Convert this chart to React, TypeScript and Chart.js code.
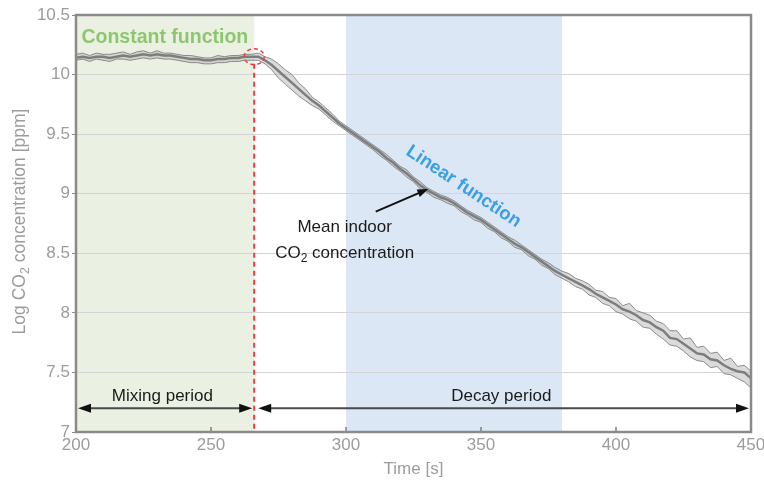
import React, { useEffect, useRef } from "react";
import { Chart, registerables } from "chart.js";

Chart.register(...registerables);

// ---------- data ----------
const TIMES: number[] = Array.from({ length: 101 }, (_, i) => 200 + i * 2.5);

const MEAN: number[] = [
  10.14, 10.15, 10.14, 10.15, 10.15, 10.14, 10.15, 10.16, 10.15, 10.16,
  10.17, 10.16, 10.17, 10.16, 10.16, 10.15, 10.14, 10.13, 10.13, 10.12,
  10.12, 10.13, 10.13, 10.14, 10.14, 10.15, 10.15,
  10.15, 10.12, 10.08, 10.03, 9.98, 9.93, 9.88, 9.83, 9.78, 9.74,
  9.69, 9.64, 9.59, 9.55, 9.51, 9.47, 9.43, 9.39, 9.35, 9.30,
  9.26, 9.21, 9.17, 9.12, 9.07, 9.03, 9.0, 8.97, 8.95, 8.92,
  8.88, 8.84, 8.81, 8.78, 8.74, 8.70, 8.66, 8.62, 8.58, 8.55,
  8.51, 8.47, 8.43, 8.39, 8.35, 8.32, 8.29, 8.26, 8.23, 8.20,
  8.16, 8.13, 8.10, 8.07, 8.03, 8.01, 7.98, 7.94, 7.92, 7.88,
  7.85, 7.79, 7.78, 7.74, 7.70, 7.66, 7.65, 7.61, 7.60, 7.56,
  7.53, 7.51, 7.50, 7.45,
];

const UPPER: number[] = [
  10.17, 10.18, 10.16, 10.18, 10.17, 10.17, 10.18, 10.19, 10.17, 10.19,
  10.2, 10.18, 10.2, 10.18, 10.18, 10.17, 10.16, 10.16, 10.15, 10.14,
  10.14, 10.16, 10.15, 10.16, 10.16, 10.17, 10.17,
  10.18, 10.15, 10.13, 10.09, 10.04, 10.0, 9.93, 9.88, 9.81, 9.77,
  9.72, 9.67, 9.61, 9.57, 9.53, 9.49, 9.45, 9.41, 9.37, 9.33,
  9.28, 9.23, 9.2, 9.14, 9.1, 9.05, 9.02, 8.99, 8.97, 8.94,
  8.9, 8.86, 8.83, 8.8, 8.76, 8.72, 8.68, 8.64, 8.61, 8.57,
  8.53, 8.49, 8.45, 8.42, 8.38, 8.35, 8.33, 8.29, 8.27, 8.24,
  8.19, 8.18, 8.13, 8.12, 8.06, 8.08, 8.02, 8.0, 7.98, 7.93,
  7.91, 7.85, 7.85, 7.78, 7.79, 7.71, 7.72, 7.66, 7.67, 7.6,
  7.62, 7.55, 7.56, 7.51,
];

const LOWER: number[] = [
  10.12, 10.13, 10.11, 10.13, 10.12, 10.11, 10.13, 10.13, 10.12, 10.13,
  10.14, 10.13, 10.14, 10.13, 10.13, 10.12, 10.11, 10.1, 10.1, 10.09,
  10.09, 10.1, 10.1, 10.11, 10.11, 10.12, 10.12,
  10.12, 10.09, 10.04, 9.97, 9.92, 9.87, 9.82, 9.78, 9.74, 9.71,
  9.66, 9.61, 9.57, 9.53, 9.49, 9.45, 9.41, 9.37, 9.32, 9.28,
  9.23, 9.19, 9.14, 9.1, 9.04, 9.01, 8.97, 8.95, 8.92, 8.9,
  8.85, 8.82, 8.78, 8.76, 8.71, 8.68, 8.63, 8.6, 8.55, 8.53,
  8.48, 8.45, 8.4, 8.37, 8.32, 8.29, 8.26, 8.22, 8.2, 8.15,
  8.13, 8.08, 8.06, 8.01, 7.99, 7.95, 7.93, 7.88, 7.87, 7.82,
  7.78, 7.73, 7.72, 7.68, 7.63, 7.6, 7.59, 7.54, 7.55, 7.49,
  7.48, 7.45, 7.42, 7.37,
];

const X_RANGE = [200, 450];
const Y_RANGE = [7, 10.5];
const X_STEP = 50;
const Y_STEP = 0.5;

const MIXING_PERIOD = [200, 266];
const DECAY_PERIOD = [266, 450];
const LINEAR_WINDOW = [300, 380];
const BREAKPOINT = { t: 266, v: 10.15 };

const PERIOD_ARROW_LEVEL = 7.2;
const PERIOD_LABEL_LEVEL = 7.3;
const MIXING_LABEL = { t: 232, text: "Mixing period" };
const DECAY_LABEL = { t: 357.5, text: "Decay period" };
const CONSTANT_LABEL = { t: 202, v: 10.262, text: "Constant function" };
const LINEAR_LABEL = { t: 343.5, v: 9.06, text: "Linear function" };
const MEAN_LABEL = { t: 299.5, v1: 8.72, v2: 8.5 };
const MEAN_ARROW = { from: [311, 8.85], to: [330.5, 9.04] };

const Y_TITLE = ["Log CO", "2", " concentration [ppm]"];
const X_TITLE = "Time [s]";

const AXIS_GRAY = "#9c9c9c";
const FONT = "'Liberation Sans', Arial, sans-serif";

function arrowHead(ctx: CanvasRenderingContext2D, x: number, y: number, angle: number, len: number, half: number) {
  ctx.save();
  ctx.translate(x, y);
  ctx.rotate(angle);
  ctx.beginPath();
  ctx.moveTo(0, 0);
  ctx.lineTo(-len, -half);
  ctx.lineTo(-len, half);
  ctx.closePath();
  ctx.fill();
  ctx.restore();
}

// draw text with a subscript part, centred at (0,0) in current frame
function subText(ctx: CanvasRenderingContext2D, parts: string[], size: number, subSize: number) {
  ctx.font = `${size}px ${FONT}`;
  const w0 = ctx.measureText(parts[0]).width;
  const w2 = ctx.measureText(parts[2]).width;
  ctx.font = `${subSize}px ${FONT}`;
  const w1 = ctx.measureText(parts[1]).width;
  const total = w0 + w1 + w2;
  let x = -total / 2;
  ctx.textAlign = "left";
  ctx.textBaseline = "middle";
  ctx.font = `${size}px ${FONT}`;
  ctx.fillText(parts[0], x, 0);
  x += w0;
  ctx.font = `${subSize}px ${FONT}`;
  ctx.fillText(parts[1], x, size * 0.3);
  x += w1;
  ctx.font = `${size}px ${FONT}`;
  ctx.fillText(parts[2], x, 0);
}

const decorPlugin = {
  id: "decor",
  beforeDraw(chart: any) {
    const { ctx, chartArea: a, scales } = chart;
    const xs = scales.x;
    ctx.save();
    ctx.fillStyle = "#eaf1e2";
    const g0 = xs.getPixelForValue(MIXING_PERIOD[0]);
    const g1 = xs.getPixelForValue(MIXING_PERIOD[1]);
    ctx.fillRect(g0, a.top, g1 - g0, a.bottom - a.top);
    ctx.fillStyle = "#dbe7f4";
    const b0 = xs.getPixelForValue(LINEAR_WINDOW[0]);
    const b1 = xs.getPixelForValue(LINEAR_WINDOW[1]);
    ctx.fillRect(b0, a.top, b1 - b0, a.bottom - a.top);

    // y axis title with subscript
    ctx.fillStyle = AXIS_GRAY;
    ctx.save();
    ctx.translate(20, (a.top + a.bottom) / 2 - 2);
    ctx.rotate(-Math.PI / 2);
    subText(ctx, Y_TITLE, 17.5, 12.5);
    ctx.restore();
    ctx.restore();
  },
  afterDatasetsDraw(chart: any) {
    const { ctx, chartArea: a, scales } = chart;
    const xs = scales.x;
    const ys = scales.y;
    const px = (t: number) => xs.getPixelForValue(t);
    const py = (v: number) => ys.getPixelForValue(v);
    ctx.save();

    // red dashed breakpoint line
    const bx = px(BREAKPOINT.t);
    ctx.strokeStyle = "#ee3b3b";
    ctx.lineWidth = 2;
    ctx.setLineDash([5, 4]);
    ctx.beginPath();
    ctx.moveTo(bx, py(BREAKPOINT.v) + 7);
    ctx.lineTo(bx, a.bottom);
    ctx.stroke();
    ctx.lineWidth = 1.5;
    ctx.setLineDash([4, 3]);
    ctx.beginPath();
    ctx.ellipse(bx, py(BREAKPOINT.v), 10, 8, 0, 0, Math.PI * 2);
    ctx.stroke();
    ctx.setLineDash([]);

    // period arrows
    const ay = py(PERIOD_ARROW_LEVEL);
    ctx.strokeStyle = "#4a4a4a";
    ctx.fillStyle = "#111";
    ctx.lineWidth = 2;
    const drawDouble = (x0: number, x1: number) => {
      ctx.beginPath();
      ctx.moveTo(x0 + 4, ay);
      ctx.lineTo(x1 - 4, ay);
      ctx.stroke();
      arrowHead(ctx, x0, ay, Math.PI, 13, 4.5);
      arrowHead(ctx, x1, ay, 0, 13, 4.5);
    };
    drawDouble(px(MIXING_PERIOD[0]) + 2, px(MIXING_PERIOD[1]) - 2);
    drawDouble(px(DECAY_PERIOD[0]) + 4, px(DECAY_PERIOD[1]) - 2);

    ctx.fillStyle = "#1a1a1a";
    ctx.font = `17px ${FONT}`;
    ctx.textAlign = "center";
    ctx.textBaseline = "middle";
    ctx.fillText(MIXING_LABEL.text, px(MIXING_LABEL.t), py(PERIOD_LABEL_LEVEL));
    ctx.fillText(DECAY_LABEL.text, px(DECAY_LABEL.t), py(PERIOD_LABEL_LEVEL));

    // constant function label
    ctx.fillStyle = "#8ec66f";
    ctx.font = `bold 19.5px ${FONT}`;
    ctx.textAlign = "left";
    ctx.textBaseline = "alphabetic";
    ctx.fillText(CONSTANT_LABEL.text, px(CONSTANT_LABEL.t), py(CONSTANT_LABEL.v));

    // linear function label
    ctx.save();
    ctx.translate(px(LINEAR_LABEL.t), py(LINEAR_LABEL.v));
    ctx.rotate((33.5 * Math.PI) / 180);
    ctx.fillStyle = "#3b9fe6";
    ctx.font = `bold 18.5px ${FONT}`;
    ctx.textAlign = "center";
    ctx.textBaseline = "middle";
    ctx.fillText(LINEAR_LABEL.text, 0, 0);
    ctx.restore();

    // mean label + arrow
    ctx.fillStyle = "#1a1a1a";
    ctx.font = `17px ${FONT}`;
    ctx.textAlign = "center";
    ctx.textBaseline = "middle";
    const mx = px(MEAN_LABEL.t);
    ctx.fillText("Mean indoor", mx, py(MEAN_LABEL.v1));
    ctx.save();
    ctx.translate(mx, py(MEAN_LABEL.v2));
    subText(ctx, ["CO", "2", " concentration"], 17, 12);
    ctx.restore();

    const fx = px(MEAN_ARROW.from[0]);
    const fy = py(MEAN_ARROW.from[1]);
    const tx = px(MEAN_ARROW.to[0]);
    const ty = py(MEAN_ARROW.to[1]);
    const ang = Math.atan2(ty - fy, tx - fx);
    ctx.strokeStyle = "#111";
    ctx.fillStyle = "#111";
    ctx.lineWidth = 2;
    ctx.beginPath();
    ctx.moveTo(fx, fy);
    ctx.lineTo(tx - Math.cos(ang) * 8, ty - Math.sin(ang) * 8);
    ctx.stroke();
    arrowHead(ctx, tx, ty, ang, 11, 4);

    // inward x ticks
    ctx.strokeStyle = "#7d7d7d";
    ctx.lineWidth = 1.5;
    for (let t = X_RANGE[0] + X_STEP; t < X_RANGE[1]; t += X_STEP) {
      const x = px(t);
      ctx.beginPath();
      ctx.moveTo(x, a.bottom);
      ctx.lineTo(x, a.bottom - 5);
      ctx.stroke();
    }

    // frame
    ctx.strokeStyle = "#8a8a8a";
    ctx.lineWidth = 2.5;
    ctx.strokeRect(a.left, a.top, a.right - a.left, a.bottom - a.top);
    ctx.restore();
  },
};

export default function App() {
  const ref = useRef<HTMLCanvasElement | null>(null);

  useEffect(() => {
    document.body.style.margin = "0";
    if (!ref.current) return;
    const pts = (arr: number[]) => arr.map((v, i) => ({ x: TIMES[i], y: v }));
    const chart = new Chart(ref.current, {
      type: "line",
      data: {
        datasets: [
          {
            label: "lower",
            data: pts(LOWER),
            borderColor: "#8a8a8a",
            borderWidth: 1,
            pointRadius: 0,
            fill: false,
            tension: 0,
          },
          {
            label: "upper",
            data: pts(UPPER),
            borderColor: "#8a8a8a",
            borderWidth: 1,
            pointRadius: 0,
            fill: "-1",
            backgroundColor: "rgba(175,175,175,0.45)",
            tension: 0,
          },
          {
            label: "mean",
            data: pts(MEAN),
            borderColor: "#555555",
            borderWidth: 2.5,
            pointRadius: 0,
            fill: false,
            tension: 0,
          },
        ],
      },
      options: {
        responsive: false,
        animation: false,
        layout: { padding: { top: 15, right: 0, left: 0, bottom: 0 } },
        plugins: {
          legend: { display: false },
          tooltip: { enabled: false },
        },
        scales: {
          x: {
            type: "linear",
            min: X_RANGE[0],
            max: X_RANGE[1],
            afterFit: (s: any) => {
              s.height = 52;
              s.paddingRight = 13;
              s.paddingLeft = 0;
            },
            ticks: {
              stepSize: X_STEP,
              color: AXIS_GRAY,
              font: { size: 17, family: FONT },
              padding: 3,
              maxRotation: 0,
            },
            grid: { display: false, drawTicks: false, tickLength: 0 },
            border: { display: false },
            title: {
              display: true,
              text: X_TITLE,
              color: AXIS_GRAY,
              font: { size: 17, family: FONT },
              padding: { top: 0, bottom: 4 },
            },
          },
          y: {
            min: Y_RANGE[0],
            max: Y_RANGE[1],
            afterFit: (s: any) => {
              s.width = 76;
            },
            ticks: {
              stepSize: Y_STEP,
              color: AXIS_GRAY,
              font: { size: 17, family: FONT },
              padding: 2,
              callback: (v: any) => String(v),
            },
            grid: {
              color: "#d4d4d4",
              lineWidth: 1,
              tickLength: 4,
              tickColor: "#8a8a8a",
            },
            border: { display: false },
          },
        },
      },
      plugins: [decorPlugin],
    });
    return () => chart.destroy();
  }, []);

  return (
    <div style={{ width: 764, height: 484 }}>
      <canvas ref={ref} width={764} height={484} />
    </div>
  );
}
